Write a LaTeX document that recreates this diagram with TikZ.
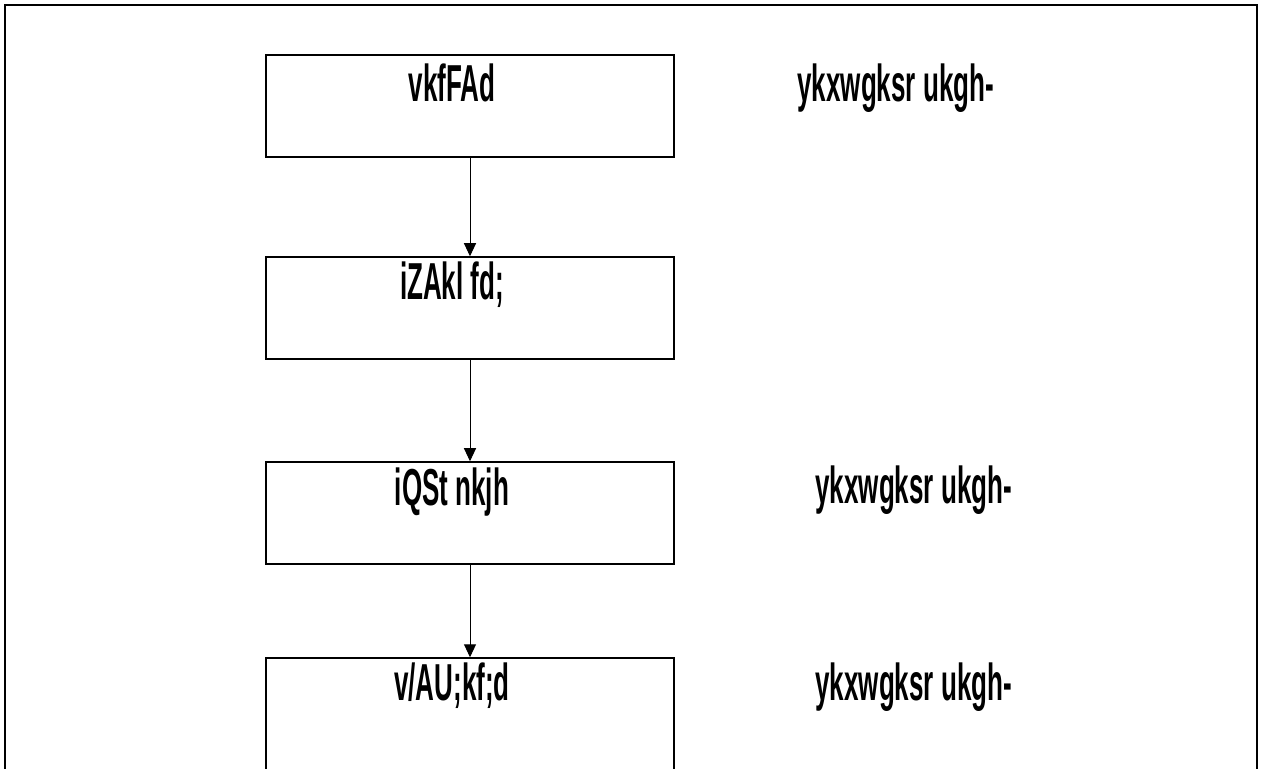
\documentclass[tikz,border=0pt]{standalone}
\usepackage{tikz}
\usepackage{fontspec}
\usetikzlibrary{arrows.meta}
\newfontfamily\krfont[FakeStretch=0.5]{Liberation Sans}

\begin{document}
\begin{tikzpicture}[x=0.5pt,y=-0.5pt,
	box/.style={draw,line width=0.75pt,minimum width=204pt,minimum height=51pt,inner sep=0pt},
	boxtext/.style={font=\fontsize{26pt}{26pt}\krfont\bfseries,inner sep=0pt,anchor=base},
	sidetext/.style={font=\fontsize{26pt}{26pt}\krfont\bfseries,inner sep=0pt,anchor=base west},
	link/.style={line width=0.5pt,-{Triangle[width=6pt,length=6.5pt]}}]

	% page and outer frame
	\useasboundingbox (0,0) rectangle (1262,769);
	\draw[line width=1pt] (5,780) -- (5,5) -- (1257,5) -- (1257,780);

	% boxes
	\node[box] (b1) at (470,106) {};
	\node[box] (b2) at (470,308) {};
	\node[box] (b3) at (470,513) {};
	\node[box,minimum height=65pt] (b4) at (470,723) {};

	% box titles
	\node[boxtext] (t1) at (452,102) {vkfFAd};
	\node[boxtext] (t2) at (452,300) {iZAkl fd;};
	\node[boxtext] (t3) at (452,505) {iQSt nkjh};
	\node[boxtext] (t4) at (452,700) {v/AU;kf;d};

	% notes on the right
	\node[sidetext] (n1) at (797,102) {ykxwgksr ukgh-};
	\node[sidetext] (n3) at (815,503) {ykxwgksr ukgh-};
	\node[sidetext] (n4) at (815,700) {ykxwgksr ukgh-};

	% arrows
	\draw[link] (b1) -- (b2);
	\draw[link] (b2) -- (b3);
	\draw[link] (b3) -- (b4);

\end{tikzpicture}
\end{document}
